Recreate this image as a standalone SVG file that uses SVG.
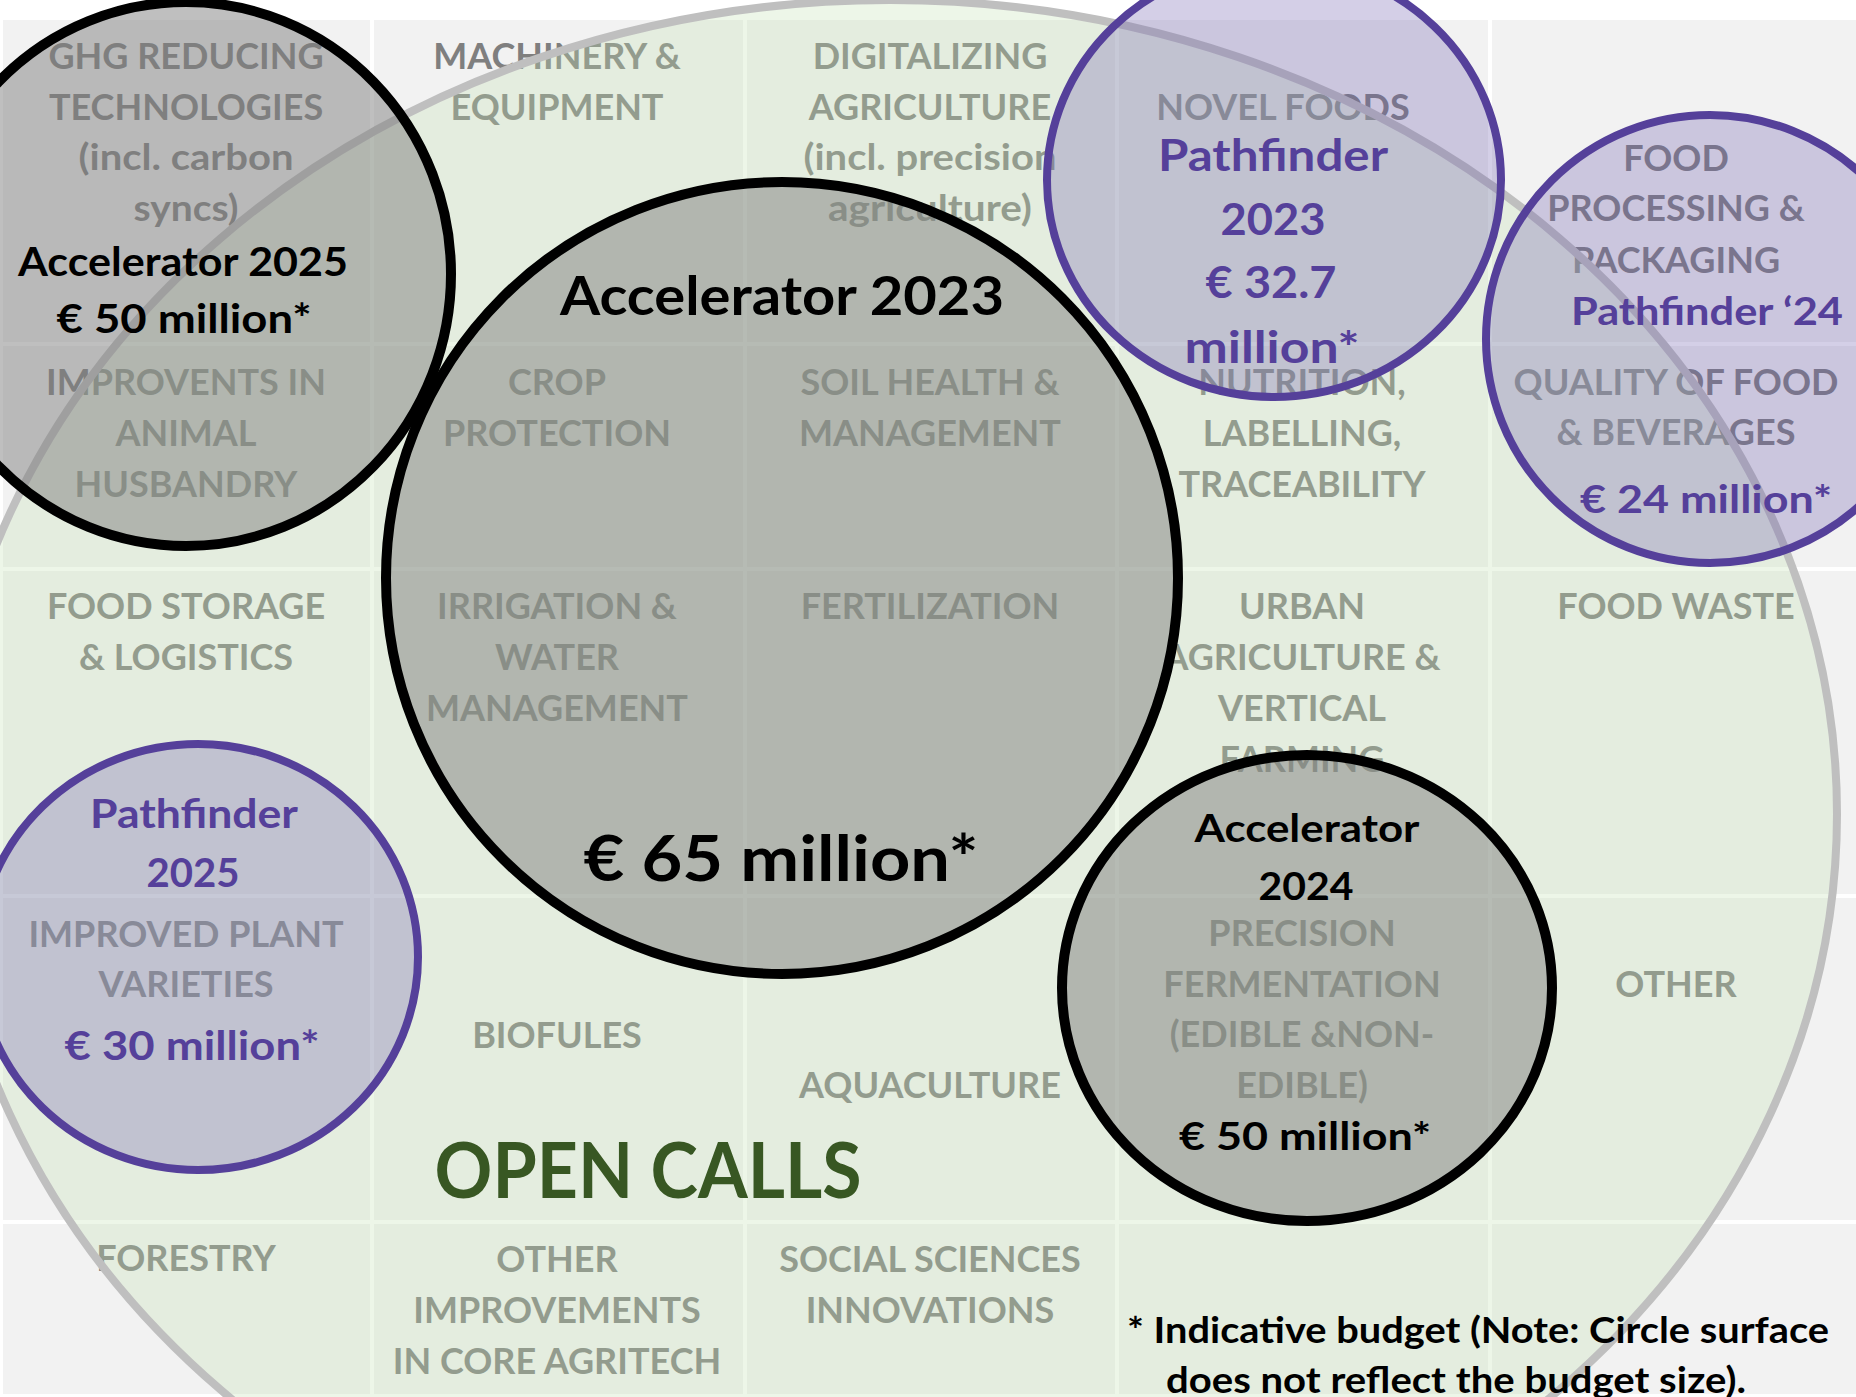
<svg xmlns="http://www.w3.org/2000/svg" width="1856" height="1397" viewBox="0 0 1856 1397">
<style>
text{font-family:Lato,"Open Sans","Liberation Sans",sans-serif;font-weight:700;text-anchor:middle}
.c{font-size:36px;fill:#7f7f7f}
.blk{fill:#000}
.pur{fill:#55409a}
.acc{fill:#808080;fill-opacity:.5;stroke:#000;stroke-width:10}
.pf{fill:#7060b0;fill-opacity:.3;stroke:#55409a;stroke-width:8}
.gl{stroke:#fff;stroke-width:4}
</style>
<rect width="1856" height="1397" fill="#fff"/>
<g id="grid">
<rect x="0" y="20" width="1856" height="1377" fill="#f2f2f2"/>
<line class="gl" x1="372" y1="20" x2="372" y2="1397"/>
<line class="gl" x1="745" y1="20" x2="745" y2="1397"/>
<line class="gl" x1="1117" y1="20" x2="1117" y2="1397"/>
<line class="gl" x1="1490" y1="20" x2="1490" y2="1397"/>
<line class="gl" x1="0" y1="344" x2="1856" y2="344"/>
<line class="gl" x1="0" y1="569" x2="1856" y2="569"/>
<line class="gl" x1="0" y1="896" x2="1856" y2="896"/>
<line class="gl" x1="0" y1="1222" x2="1856" y2="1222"/>
<line class="gl" x1="0" y1="1396" x2="1856" y2="1396"/>
<line class="gl" x1="1" y1="20" x2="1" y2="1397"/>
</g>
<g id="cells" class="c">
<g id="cell-ghg"><text class="c" x="186" y="69">GHG REDUCING</text><text class="c" x="186" y="120">TECHNOLOGIES</text><text class="c" x="186" y="170" textLength="215" lengthAdjust="spacingAndGlyphs">(incl. carbon</text><text class="c" x="186" y="221" textLength="105" lengthAdjust="spacingAndGlyphs">syncs)</text></g>
<g id="cell-animal"><text class="c" x="186" y="395">IMPROVENTS IN</text><text class="c" x="186" y="446">ANIMAL</text><text class="c" x="186" y="497">HUSBANDRY</text></g>
<g id="cell-storage"><text class="c" x="186" y="619">FOOD STORAGE</text><text class="c" x="186" y="670">&amp; LOGISTICS</text></g>
<g id="cell-plant"><text class="c" x="186" y="947">IMPROVED PLANT</text><text class="c" x="186" y="997">VARIETIES</text></g>
<g id="cell-forestry"><text class="c" x="186" y="1271">FORESTRY</text></g>
<g id="cell-machinery"><text class="c" x="557" y="69">MACHINERY &amp;</text><text class="c" x="557" y="120">EQUIPMENT</text></g>
<g id="cell-crop"><text class="c" x="557" y="395">CROP</text><text class="c" x="557" y="446">PROTECTION</text></g>
<g id="cell-irrigation"><text class="c" x="557" y="619">IRRIGATION &amp;</text><text class="c" x="557" y="670">WATER</text><text class="c" x="557" y="721">MANAGEMENT</text></g>
<g id="cell-biofules"><text class="c" x="557" y="1048">BIOFULES</text></g>
<g id="cell-other-core"><text class="c" x="557" y="1272">OTHER</text><text class="c" x="557" y="1323">IMPROVEMENTS</text><text class="c" x="557" y="1374">IN CORE AGRITECH</text></g>
<g id="cell-digital"><text class="c" x="930" y="69">DIGITALIZING</text><text class="c" x="930" y="120">AGRICULTURE</text><text class="c" x="930" y="170" textLength="253" lengthAdjust="spacingAndGlyphs">(incl. precision</text><text class="c" x="930" y="221" textLength="204" lengthAdjust="spacingAndGlyphs">agriculture)</text></g>
<g id="cell-soil"><text class="c" x="930" y="395">SOIL HEALTH &amp;</text><text class="c" x="930" y="446">MANAGEMENT</text></g>
<g id="cell-fert"><text class="c" x="930" y="619">FERTILIZATION</text></g>
<g id="cell-aqua"><text class="c" x="930" y="1098">AQUACULTURE</text></g>
<g id="cell-social"><text class="c" x="930" y="1272">SOCIAL SCIENCES</text><text class="c" x="930" y="1323">INNOVATIONS</text></g>
<g id="cell-novel"><text class="c" x="1283" y="120">NOVEL FOODS</text></g>
<g id="cell-nutrition"><text class="c" x="1302" y="395">NUTRITION,</text><text class="c" x="1302" y="446">LABELLING,</text><text class="c" x="1302" y="497">TRACEABILITY</text></g>
<g id="cell-urban"><text class="c" x="1302" y="619">URBAN</text><text class="c" x="1302" y="670">AGRICULTURE &amp;</text><text class="c" x="1302" y="721">VERTICAL</text><text class="c" x="1302" y="772">FARMING</text></g>
<g id="cell-precision"><text class="c" x="1302" y="946">PRECISION</text><text class="c" x="1302" y="997">FERMENTATION</text><text class="c" x="1302" y="1047">(EDIBLE &amp;NON-</text><text class="c" x="1302" y="1098">EDIBLE)</text></g>
<g id="cell-processing"><text class="c" x="1676" y="171">FOOD</text><text class="c" x="1676" y="221">PROCESSING &amp;</text><text class="c" x="1676" y="273">PACKAGING</text></g>
<g id="cell-quality"><text class="c" x="1676" y="395">QUALITY OF FOOD</text><text class="c" x="1676" y="445">&amp; BEVERAGES</text></g>
<g id="cell-waste"><text class="c" x="1676" y="619">FOOD WASTE</text></g>
<g id="cell-other"><text class="c" x="1676" y="997">OTHER</text></g>
</g>
<g id="open-calls">
<ellipse cx="890" cy="814" rx="947" ry="814" fill="#c5e0b4" fill-opacity="0.3" stroke="#bfbfbf" stroke-width="8"/>
<text x="648" y="1198" font-size="76" fill="#385723" textLength="427" lengthAdjust="spacingAndGlyphs">OPEN CALLS</text>
</g>
<g id="accelerator-2025">
<ellipse class="acc" cx="186" cy="274" rx="265" ry="272"/>
<text class="blk" x="183" y="276" font-size="40" textLength="330" lengthAdjust="spacingAndGlyphs">Accelerator 2025</text>
<text class="blk" x="184" y="333" font-size="40" textLength="255" lengthAdjust="spacingAndGlyphs">€ 50 million*</text>
</g>
<g id="accelerator-2023">
<circle class="acc" cx="782" cy="578" r="396"/>
<text class="blk" x="782" y="315" font-size="54" textLength="444" lengthAdjust="spacingAndGlyphs">Accelerator 2023</text>
<text class="blk" x="781" y="881" font-size="63" textLength="395" lengthAdjust="spacingAndGlyphs">€ 65 million*</text>
</g>
<g id="pathfinder-2023">
<ellipse class="pf" cx="1274" cy="180" rx="227" ry="217"/>
<text class="pur" x="1273" y="171" font-size="44" textLength="230" lengthAdjust="spacingAndGlyphs">Pathfinder</text>
<text class="pur" x="1273" y="235" font-size="44" textLength="105" lengthAdjust="spacingAndGlyphs">2023</text>
<text class="pur" x="1271" y="298" font-size="44" textLength="131" lengthAdjust="spacingAndGlyphs">€ 32.7</text>
<text class="pur" x="1272" y="363" font-size="44" textLength="175" lengthAdjust="spacingAndGlyphs">million*</text>
</g>
<g id="pathfinder-2024">
<circle class="pf" cx="1710" cy="339" r="224"/>
<text class="pur" x="1707" y="325" font-size="39" textLength="272" lengthAdjust="spacingAndGlyphs">Pathfinder ‘24</text>
<text class="pur" x="1706" y="513" font-size="39" textLength="252" lengthAdjust="spacingAndGlyphs">€ 24 million*</text>
</g>
<g id="pathfinder-2025">
<ellipse class="pf" cx="198" cy="957" rx="220" ry="213"/>
<text class="pur" x="194" y="828" font-size="41" textLength="208" lengthAdjust="spacingAndGlyphs">Pathfinder</text>
<text class="pur" x="193" y="887" font-size="40" textLength="93" lengthAdjust="spacingAndGlyphs">2025</text>
<text class="pur" x="192" y="1060" font-size="40" textLength="255" lengthAdjust="spacingAndGlyphs">€ 30 million*</text>
</g>
<g id="accelerator-2024">
<ellipse class="acc" cx="1307" cy="988" rx="245" ry="233"/>
<text class="blk" x="1307" y="842" font-size="39" textLength="225" lengthAdjust="spacingAndGlyphs">Accelerator</text>
<text class="blk" x="1306" y="900" font-size="39" textLength="95" lengthAdjust="spacingAndGlyphs">2024</text>
<text class="blk" x="1305" y="1150" font-size="39" textLength="252" lengthAdjust="spacingAndGlyphs">€ 50 million*</text>
</g>
<g id="footnote">
<text class="blk" x="1127" y="1343" font-size="37" style="text-anchor:start" textLength="702" lengthAdjust="spacingAndGlyphs">* Indicative budget (Note: Circle surface</text>
<text class="blk" x="1166" y="1393" font-size="37" style="text-anchor:start" textLength="580" lengthAdjust="spacingAndGlyphs">does not reflect the budget size).</text>
</g>
</svg>
